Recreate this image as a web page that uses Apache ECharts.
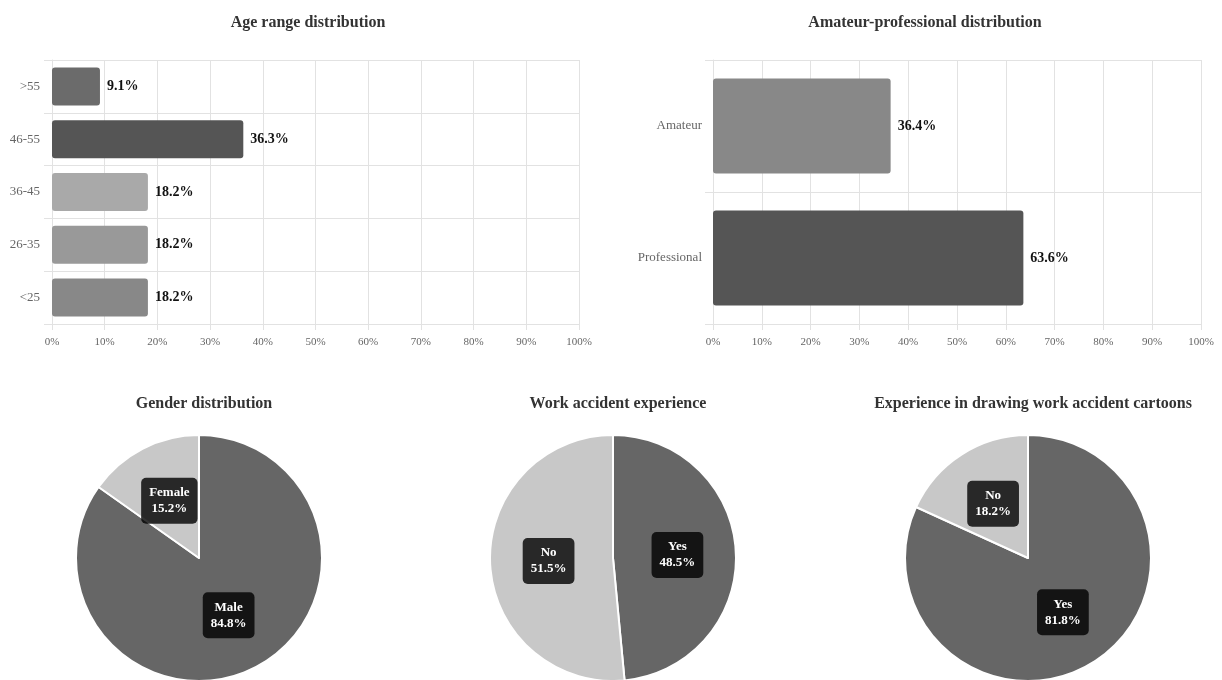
<!DOCTYPE html>
<html>
<head>
<meta charset="utf-8">
<script src="https://cdn.jsdelivr.net/npm/echarts@6/dist/echarts.min.js"></script>
<style>
html,body{margin:0;padding:0;background:#fff;}
#c{width:1222px;height:680px;}
</style>
</head>
<body>
<div id="c"></div>
<script>
// ---- data ----
const ageCategories = ['<25', '26-35', '36-45', '46-55', '>55'];
const ageValues = [18.2, 18.2, 18.2, 36.3, 9.1];
const ageColors = ['#888888', '#999999', '#a9a9a9', '#555555', '#6b6b6b'];

const proCategories = ['Professional', 'Amateur'];
const proValues = [63.6, 36.4];
const proColors = ['#555555', '#888888'];

const genderNames = ['Male', 'Female'];
const genderValues = [84.8, 15.2];

const accidentNames = ['Yes', 'No'];
const accidentValues = [48.5, 51.5];

const cartoonNames = ['Yes', 'No'];
const cartoonValues = [81.8, 18.2];

const pieColors = ['#666666', '#c8c8c8'];

// ---- styles ----
const FONT = '"Liberation Serif", "DejaVu Serif", serif';
const GRID_COLOR = '#e2e2e2';

function valueAxis(gridIndex) {
  return {
    type: 'value', gridIndex, min: 0, max: 100, interval: 10,
    axisLine: { show: true, lineStyle: { color: GRID_COLOR } },
    axisTick: { show: true, length: 6, lineStyle: { color: GRID_COLOR } },
    splitLine: { show: true, lineStyle: { color: GRID_COLOR } },
    axisLabel: { margin: 13, color: '#666', fontFamily: FONT, fontSize: 11, formatter: '{value}%' }
  };
}
function catAxis(gridIndex, cats, margin) {
  return {
    type: 'category', gridIndex, data: cats,
    axisLine: { show: true, lineStyle: { color: GRID_COLOR } },
    axisTick: { show: true, length: 8, lineStyle: { color: GRID_COLOR } },
    splitLine: { show: true, lineStyle: { color: GRID_COLOR } },
    axisLabel: { margin: margin, color: '#666', fontFamily: FONT, fontSize: 13 }
  };
}
function barSeries(idx, values, colors) {
  return {
    type: 'bar', xAxisIndex: idx, yAxisIndex: idx,
    barCategoryGap: '28%',
    data: values.map((v, i) => ({ value: v, itemStyle: { color: colors[i] } })),
    itemStyle: { borderRadius: 3 },
    label: {
      show: true, position: 'right', distance: 7,
      formatter: '{c}%', color: '#111', fontFamily: FONT, fontSize: 14, fontWeight: 'bold'
    },
    silent: true
  };
}
function pieSeries(names, values, cx) {
  return {
    type: 'pie', center: [cx, 558], radius: 123, startAngle: 90, clockwise: true,
    data: names.map((n, i) => ({ name: n, value: values[i], itemStyle: { color: pieColors[i] } })),
    itemStyle: { borderColor: '#fff', borderWidth: 2 },
    label: {
      show: true, position: 'inside', formatter: '{b}\n{c}%',
      color: '#fff', fontFamily: FONT, fontSize: 13, fontWeight: 'bold', lineHeight: 16,
      backgroundColor: 'rgba(0,0,0,0.8)', borderRadius: 5, padding: [7, 8]
    },
    labelLine: { show: false },
    emphasis: { disabled: true },
    silent: true
  };
}
function title(text, x, y) {
  return {
    text, left: x, top: y, textAlign: 'center',
    textStyle: { fontFamily: FONT, fontSize: 16, fontWeight: 'bold', color: '#333' }
  };
}

const chart = echarts.init(document.getElementById('c'), null, { renderer: 'canvas' });
chart.setOption({
  animation: false,
  backgroundColor: '#fff',
  title: [
    title('Age range distribution', 303, 10),
    title('Amateur-professional distribution', 920, 10),
    title('Gender distribution', 199, 391),
    title('Work accident experience', 613, 391),
    title('Experience in drawing work accident cartoons', 1028, 391)
  ],
  grid: [
    { left: 52, top: 60, width: 527, height: 264 },
    { left: 713, top: 60, width: 488, height: 264 }
  ],
  xAxis: [valueAxis(0), valueAxis(1)],
  yAxis: [catAxis(0, ageCategories, 12), catAxis(1, proCategories, 11)],
  series: [
    barSeries(0, ageValues, ageColors),
    barSeries(1, proValues, proColors),
    pieSeries(genderNames, genderValues, 199),
    pieSeries(accidentNames, accidentValues, 613),
    pieSeries(cartoonNames, cartoonValues, 1028)
  ]
});
</script>
</body>
</html>
